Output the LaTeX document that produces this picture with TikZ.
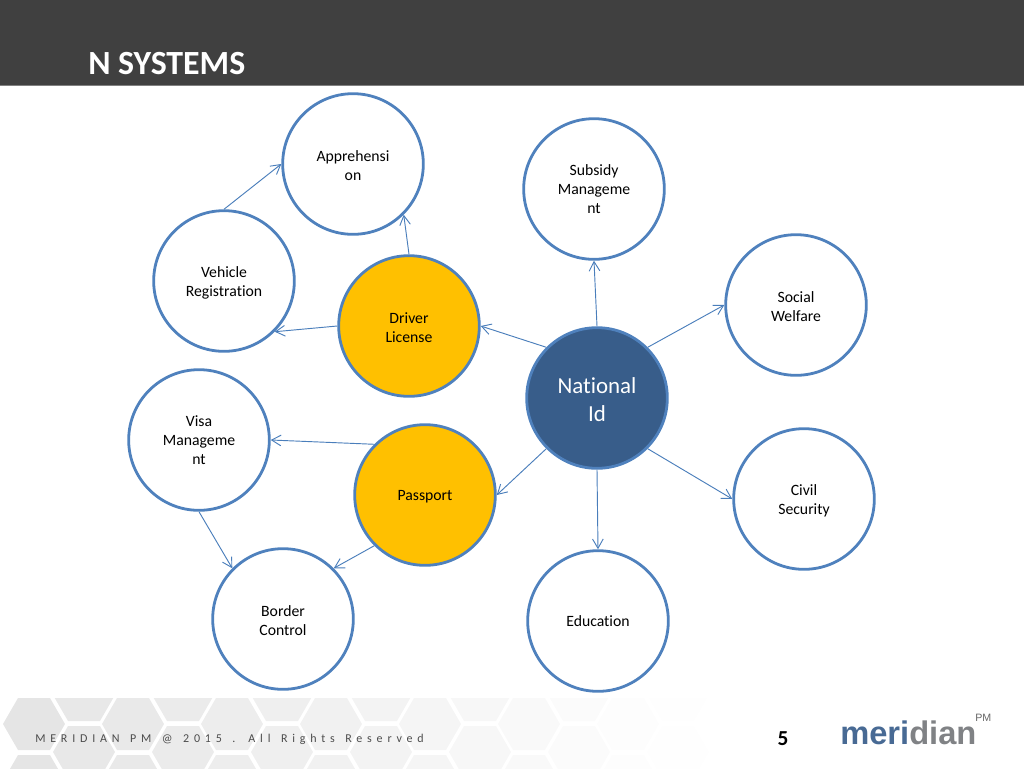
\documentclass[tikz,border=0pt]{standalone}
\usepackage{fontspec}
\setmainfont[Ligatures=NoCommon]{Carlito}
\newfontfamily\spacedfont[LetterSpace=40, WordSpace=1.4, Ligatures=NoCommon]{Carlito}
\usepackage{xcolor}
\usetikzlibrary{arrows.meta, positioning}
\definecolor{headgray}{RGB}{64, 64, 64}
\definecolor{ringblue}{RGB}{79, 129, 189}
\definecolor{ringline}{RGB}{74, 126, 187}
\definecolor{idblue}{RGB}{56, 93, 138}
\definecolor{amber}{RGB}{255, 192, 0}
\definecolor{logoblue}{RGB}{72, 106, 148}
\definecolor{logogray}{RGB}{128, 130, 133}
\tikzset{
  topic/.style={circle, draw=ringblue, line width=2.1pt, minimum size=105.5pt, inner sep=0pt,
    align=center, font=\fontsize{11.8}{14.2}\selectfont, fill=white},
  licence/.style={topic, fill=amber},
  hub/.style={topic, fill=idblue, text=white, font=\fontsize{17.2}{21}\selectfont},
  link/.style={-{Straight Barb[length=7pt, width=8pt]}, ringline, line width=0.7pt}
}
\newcommand{\lift}[1][0.9em]{\rule{0pt}{#1}}
\newcommand{\hexcell}[2]{%
  \pgfmathsetmacro{\tone}{max(0, 10.5*(1-(#1)/690))}
  \fill[black!\tone!white] (#1-31,#2) -- ++(15,-26) -- ++(32,0) -- ++(15,26)
    -- ++(-15,26) -- ++(-32,0) -- cycle;
}
\begin{document}
\begin{tikzpicture}[x=0.75pt, y=-0.75pt]
  \useasboundingbox (0,0) rectangle (1024,768);

  % Header band
  \fill[headgray] (0,0) rectangle (1024,85);
  \draw[gray, line width=0.8pt] (0,85.5) -- (1024,85.5);
  \node[anchor=west, text=white, font=\fontsize{25.4}{28}\bfseries\selectfont, inner sep=0pt] (title) at (88,64) {N SYSTEMS};

  % Footer hexagons
  \begin{scope}
    \clip (0,698) rectangle (720,768);
    \foreach \col in {0,...,7}
      \foreach \row in {0,1} {
        \hexcell{34+99*\col}{724+57*\row}
        \hexcell{84+99*\col}{695+57*\row}
      }
  \end{scope}

  % Circles
  \node[hub] (national) at (597,398) {\lift[0.85em]National\\Id};
  \node[licence] (driver) at (409,326) {\lift Driver\\License};
  \node[licence] (passport) at (425,495) {\lift[0.85em]Passport};
  \node[topic] (apprehension) at (353,164) {\lift Apprehensi\\on};
  \node[topic] (subsidy) at (594,189) {Subsidy\\Manageme\\nt};
  \node[topic] (social) at (796,305) {\lift Social\\Welfare};
  \node[topic] (civil) at (804,499) {\lift Civil\\Security};
  \node[topic] (education) at (598,621) {Education};
  \node[topic] (border) at (283,619) {\lift Border\\Control};
  \node[topic] (visa) at (199,440) {Visa\\Manageme\\nt};
  \node[topic] (vehicle) at (224,281) {\lift Vehicle\\Registration};

  % Links
  \draw[link] (national.north west) -- (driver.east);
  \draw[link] (national.south west) -- (passport.east);
  \draw[link] (national.north) -- (subsidy.south);
  \draw[link] (national.north east) -- (social.west);
  \draw[link] (national.south east) -- (civil.west);
  \draw[link] (national.south) -- (education.north);
  \draw[link] (driver.north) -- (apprehension.south east);
  \draw[link] (driver.west) -- (vehicle.south east);
  \draw[link] (vehicle.north) -- (apprehension.west);
  \draw[link] (passport.north west) -- (visa.east);
  \draw[link] (passport.south west) -- (border.north east);
  \draw[link] (visa.south) -- (border.north west);

  % Footer text
  \node[anchor=west, inner sep=0pt, text=black!70, font=\fontsize{9}{11}\spacedfont] (rights) at (35,739)
    {MERIDIAN PM @ 2015 . All Rights Reserved};
  \node[font=\fontsize{16}{18}\bfseries\selectfont, inner sep=0pt] (pageno) at (783,739) {5};
  \node[anchor=west, inner sep=0pt, font=\fontsize{24.5}{28}\bfseries\fontspec{Liberation Sans}] (logo) at (840,733)
    {\textcolor{logoblue}{meri}\textcolor{logogray}{dian}};
  \node[anchor=west, inner sep=0pt, text=black!60, font=\fontsize{8}{9}\fontspec{Liberation Sans}] (logopm) at (975,718) {PM};
\end{tikzpicture}
\end{document}
